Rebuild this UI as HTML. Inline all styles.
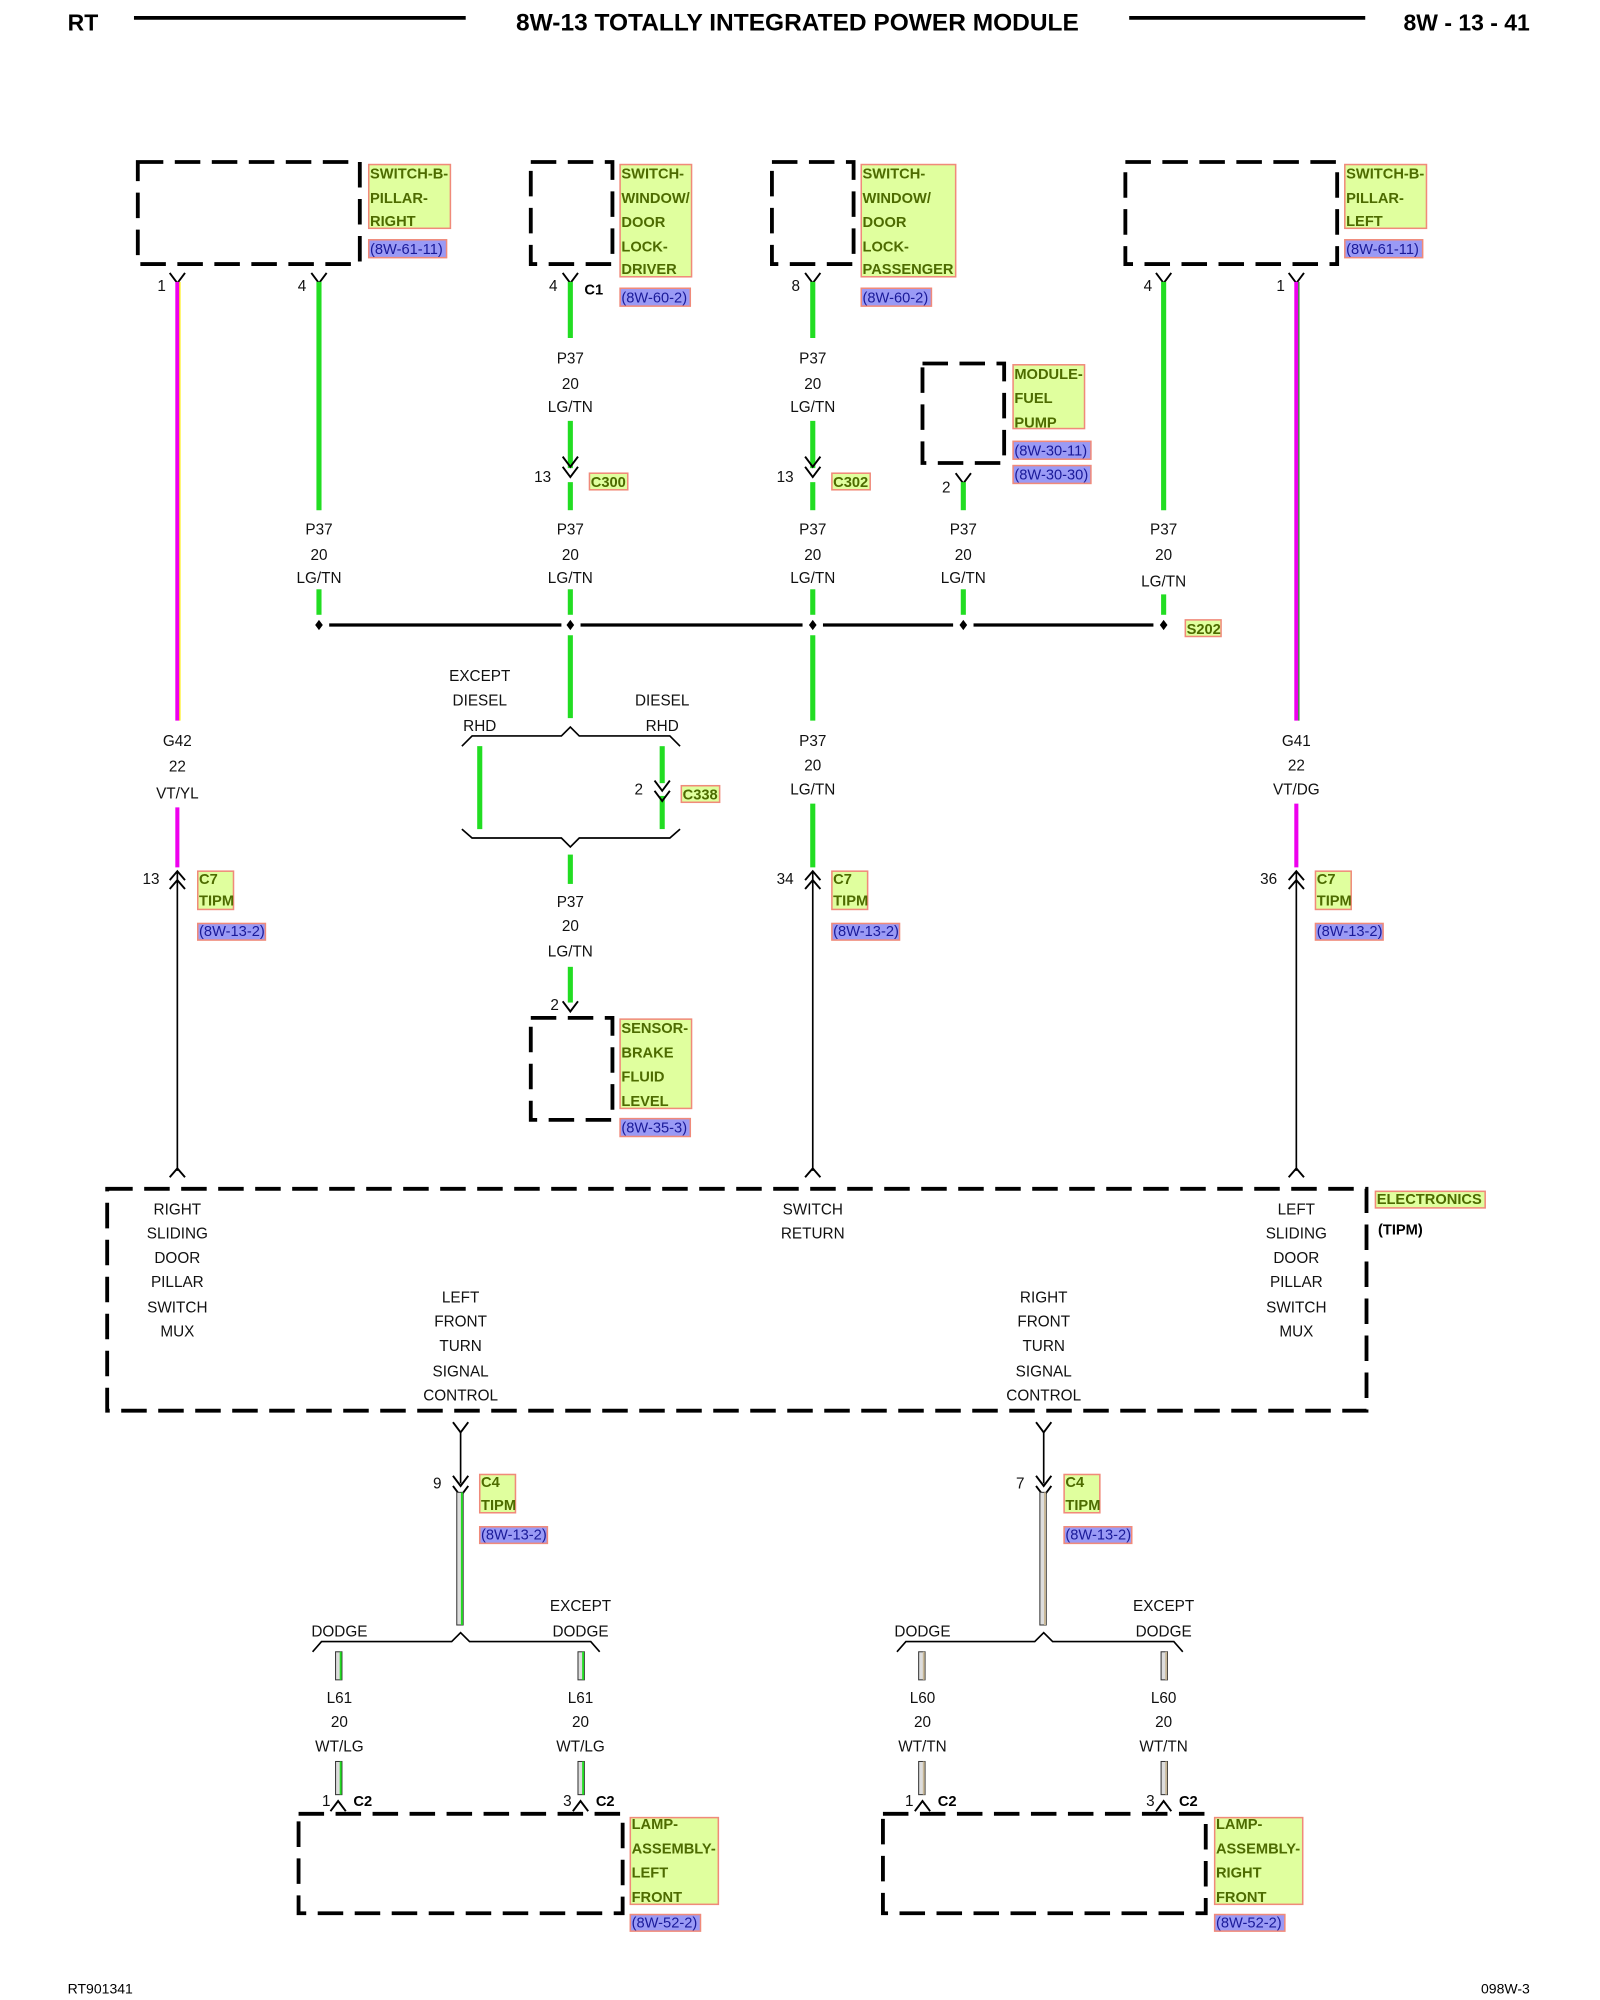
<!DOCTYPE html>
<html><head><meta charset="utf-8"><style>
html,body{margin:0;padding:0;background:#fff;}
svg{display:block;}
text{font-family:"Liberation Sans",sans-serif;}
.t{font-size:12px;fill:#111;text-anchor:middle;}
.n{font-size:12px;fill:#111;text-anchor:end;}
.lb{font-size:11.5px;font-weight:bold;fill:#4d6b00;}
.rf{font-size:11.5px;fill:#1a1a99;}
.bx{fill:none;stroke:#000;stroke-width:3;stroke-dasharray:20 9;}
.lf{fill:#e0ff9e;stroke:#f08a7a;stroke-width:1.2;}
.rb{fill:#9a9af5;stroke:#f08a7a;stroke-width:1.2;}
.g{stroke:#22dd22;stroke-width:4;}
.m{stroke:#ee00ee;stroke-width:3.2;}
.k{stroke:#000;stroke-width:1.3;fill:none;}
.kb{stroke:#000;stroke-width:2.5;}
.ch{stroke:#000;stroke-width:1.5;fill:none;}
</style></head><body>
<svg width="1600" height="2000" viewBox="0 0 1254 1568" preserveAspectRatio="none" xmlns="http://www.w3.org/2000/svg">
<text x="53" y="24" style="font-size:18px;font-weight:bold">RT</text>
<line x1="105" y1="14" x2="365" y2="14" stroke="#000" stroke-width="3"/>
<text x="625" y="24" style="font-size:19.2px;font-weight:bold;text-anchor:middle">8W-13 TOTALLY INTEGRATED POWER MODULE</text>
<line x1="885" y1="14" x2="1070" y2="14" stroke="#000" stroke-width="3"/>
<text x="1199" y="24" style="font-size:18px;font-weight:bold;text-anchor:end">8W - 13 - 41</text>

<rect class="bx" x="108" y="127" width="174" height="80"/>
<rect class="lf" x="289" y="129" width="64" height="50"/>
<text class="lb" x="290" y="140">SWITCH-B-</text><text class="lb" x="290" y="159">PILLAR-</text><text class="lb" x="290" y="177">RIGHT</text>
<rect class="rb" x="289" y="188" width="61" height="14"/><text class="rf" x="290" y="199">(8W-61-11)</text>

<rect class="bx" x="416" y="127" width="64" height="80"/>
<rect class="lf" x="486" y="129" width="56" height="88"/>
<text class="lb" x="487" y="140">SWITCH-</text><text class="lb" x="487" y="159">WINDOW/</text><text class="lb" x="487" y="178">DOOR</text><text class="lb" x="487" y="197">LOCK-</text><text class="lb" x="487" y="215">DRIVER</text>
<rect class="rb" x="486" y="226" width="55" height="14"/><text class="rf" x="487" y="237">(8W-60-2)</text>

<rect class="bx" x="605" y="127" width="64" height="80"/>
<rect class="lf" x="675" y="129" width="74" height="88"/>
<text class="lb" x="676" y="140">SWITCH-</text><text class="lb" x="676" y="159">WINDOW/</text><text class="lb" x="676" y="178">DOOR</text><text class="lb" x="676" y="197">LOCK-</text><text class="lb" x="676" y="215">PASSENGER</text>
<rect class="rb" x="675" y="226" width="55" height="14"/><text class="rf" x="676" y="237">(8W-60-2)</text>

<rect class="bx" x="882" y="127" width="166" height="80"/>
<rect class="lf" x="1054" y="129" width="64" height="50"/>
<text class="lb" x="1055" y="140">SWITCH-B-</text><text class="lb" x="1055" y="159">PILLAR-</text><text class="lb" x="1055" y="177">LEFT</text>
<rect class="rb" x="1054" y="188" width="61" height="14"/><text class="rf" x="1055" y="199">(8W-61-11)</text>

<rect class="bx" x="723" y="285" width="64" height="78"/>
<rect class="lf" x="794" y="286" width="56" height="50"/>
<text class="lb" x="795" y="297">MODULE-</text><text class="lb" x="795" y="316">FUEL</text><text class="lb" x="795" y="335">PUMP</text>
<rect class="rb" x="794" y="346" width="61" height="14"/><text class="rf" x="795" y="357">(8W-30-11)</text>
<rect class="rb" x="794" y="365" width="61" height="14"/><text class="rf" x="795" y="376">(8W-30-30)</text>

<g class="ch">
<path d="M133 214 L139 222 L145 214"/><path d="M244 214 L250 222 L256 214"/>
<path d="M441 214 L447 222 L453 214"/><path d="M631 214 L637 222 L643 214"/>
<path d="M906 214 L912 222 L918 214"/><path d="M1010 214 L1016 222 L1022 214"/>
<path d="M749 371 L755 379 L761 371"/>
</g>
<text class="n" x="130" y="228">1</text><text class="n" x="240" y="228">4</text><text class="n" x="437" y="228">4</text>
<text x="458" y="231" style="font-size:11.5px;font-weight:bold">C1</text>
<text class="n" x="627" y="228">8</text><text class="n" x="903" y="228">4</text><text class="n" x="1007" y="228">1</text>
<text class="n" x="745" y="386">2</text>

<line class="m" x1="139" y1="221" x2="139" y2="565"/><line class="m" x1="139" y1="633" x2="139" y2="680"/>
<line x1="141" y1="221" x2="141" y2="565" stroke="#ffee00" stroke-width="1"/>
<line class="m" x1="1016" y1="221" x2="1016" y2="565"/><line class="m" x1="1016" y1="630" x2="1016" y2="680"/>
<line x1="1018" y1="221" x2="1018" y2="565" stroke="#229922" stroke-width="1"/>

<line class="g" x1="250" y1="221" x2="250" y2="400"/><line class="g" x1="250" y1="462" x2="250" y2="482"/>
<line class="g" x1="447" y1="221" x2="447" y2="265"/><line class="g" x1="447" y1="330" x2="447" y2="367"/><line class="g" x1="447" y1="378" x2="447" y2="400"/><line class="g" x1="447" y1="462" x2="447" y2="482"/><line class="g" x1="447" y1="498" x2="447" y2="563"/>
<line class="g" x1="637" y1="221" x2="637" y2="265"/><line class="g" x1="637" y1="330" x2="637" y2="367"/><line class="g" x1="637" y1="378" x2="637" y2="400"/><line class="g" x1="637" y1="462" x2="637" y2="482"/><line class="g" x1="637" y1="498" x2="637" y2="565"/><line class="g" x1="637" y1="630" x2="637" y2="680"/>
<line class="g" x1="755" y1="378" x2="755" y2="400"/><line class="g" x1="755" y1="462" x2="755" y2="482"/>
<line class="g" x1="912" y1="221" x2="912" y2="400"/><line class="g" x1="912" y1="466" x2="912" y2="482"/>
<line class="g" x1="376" y1="585" x2="376" y2="650"/>
<line class="g" x1="519" y1="585" x2="519" y2="614"/><line class="g" x1="519" y1="624" x2="519" y2="650"/>
<line class="g" x1="447" y1="670" x2="447" y2="693"/><line class="g" x1="447" y1="758" x2="447" y2="786"/>

<g class="ch">
<path d="M441 358 L447 366 L453 358"/><path d="M441 366 L447 374 L453 366"/>
<path d="M631 358 L637 366 L643 358"/><path d="M631 366 L637 374 L643 366"/>
<path d="M513 612 L519 620 L525 612"/><path d="M513 620 L519 628 L525 620"/>
<path d="M441 785 L447 793 L453 785"/>
</g>
<text class="n" x="432" y="378">13</text><rect class="lf" x="462" y="371" width="30" height="13"/><text class="lb" x="463" y="382">C300</text>
<text class="n" x="622" y="378">13</text><rect class="lf" x="652" y="371" width="30" height="13"/><text class="lb" x="653" y="382">C302</text>
<text class="n" x="504" y="623">2</text><rect class="lf" x="534" y="616" width="30" height="13"/><text class="lb" x="535" y="627">C338</text>
<text class="n" x="438" y="792">2</text>

<g class="t">
<text x="447" y="285">P37</text><text x="447" y="305">20</text><text x="447" y="323">LG/TN</text>
<text x="637" y="285">P37</text><text x="637" y="305">20</text><text x="637" y="323">LG/TN</text>
<text x="250" y="419">P37</text><text x="250" y="439">20</text><text x="250" y="457">LG/TN</text>
<text x="447" y="419">P37</text><text x="447" y="439">20</text><text x="447" y="457">LG/TN</text>
<text x="637" y="419">P37</text><text x="637" y="439">20</text><text x="637" y="457">LG/TN</text>
<text x="755" y="419">P37</text><text x="755" y="439">20</text><text x="755" y="457">LG/TN</text>
<text x="912" y="419">P37</text><text x="912" y="439">20</text><text x="912" y="460">LG/TN</text>
<text x="139" y="585">G42</text><text x="139" y="605">22</text><text x="139" y="626">VT/YL</text>
<text x="637" y="585">P37</text><text x="637" y="604">20</text><text x="637" y="623">LG/TN</text>
<text x="1016" y="585">G41</text><text x="1016" y="604">22</text><text x="1016" y="623">VT/DG</text>
<text x="376" y="534">EXCEPT</text><text x="376" y="553">DIESEL</text><text x="376" y="573">RHD</text>
<text x="519" y="553">DIESEL</text><text x="519" y="573">RHD</text>
<text x="447" y="711">P37</text><text x="447" y="730">20</text><text x="447" y="750">LG/TN</text>
</g>

<line class="kb" x1="258" y1="490" x2="440" y2="490"/><line class="kb" x1="455" y1="490" x2="629" y2="490"/>
<line class="kb" x1="645" y1="490" x2="747" y2="490"/><line class="kb" x1="763" y1="490" x2="904" y2="490"/>
<g fill="#000"><path d="M250 486 L253 490 L250 494 L247 490Z"/><path d="M447 486 L450 490 L447 494 L444 490Z"/><path d="M637 486 L640 490 L637 494 L634 490Z"/><path d="M755 486 L758 490 L755 494 L752 490Z"/><path d="M912 486 L915 490 L912 494 L909 490Z"/></g>
<rect class="lf" x="929" y="486" width="28" height="13"/><text class="lb" x="930" y="497">S202</text>

<path class="k" d="M362 585 L370 577 L440 577 L447 570 L454 577 L525 577 L533 585"/>
<path class="k" d="M362 650 L370 657 L440 657 L447 664 L454 657 L525 657 L533 650"/>

<g class="ch">
<path d="M133 690 L139 683 L145 690"/><path d="M133 697 L139 690 L145 697"/>
<path d="M631 690 L637 683 L643 690"/><path d="M631 697 L637 690 L643 697"/>
<path d="M1010 690 L1016 683 L1022 690"/><path d="M1010 697 L1016 690 L1022 697"/>
<path d="M133 923 L139 916 L145 923"/><path d="M631 923 L637 916 L643 923"/><path d="M1010 923 L1016 916 L1022 923"/>
</g>
<line class="k" x1="139" y1="684" x2="139" y2="918"/><line class="k" x1="637" y1="684" x2="637" y2="918"/><line class="k" x1="1016" y1="684" x2="1016" y2="918"/>
<text class="n" x="125" y="693">13</text><text class="n" x="622" y="693">34</text><text class="n" x="1001" y="693">36</text>
<rect class="lf" x="155" y="683" width="28" height="30"/><text class="lb" x="156" y="693">C7</text><text class="lb" x="156" y="710">TIPM</text>
<rect class="rb" x="155" y="724" width="53" height="13"/><text class="rf" x="156" y="734">(8W-13-2)</text>
<rect class="lf" x="652" y="683" width="28" height="30"/><text class="lb" x="653" y="693">C7</text><text class="lb" x="653" y="710">TIPM</text>
<rect class="rb" x="652" y="724" width="53" height="13"/><text class="rf" x="653" y="734">(8W-13-2)</text>
<rect class="lf" x="1031" y="683" width="28" height="30"/><text class="lb" x="1032" y="693">C7</text><text class="lb" x="1032" y="710">TIPM</text>
<rect class="rb" x="1031" y="724" width="53" height="13"/><text class="rf" x="1032" y="734">(8W-13-2)</text>

<rect class="bx" x="416" y="798" width="64" height="80"/>
<rect class="lf" x="486" y="799" width="56" height="70"/>
<text class="lb" x="487" y="810">SENSOR-</text><text class="lb" x="487" y="829">BRAKE</text><text class="lb" x="487" y="848">FLUID</text><text class="lb" x="487" y="867">LEVEL</text>
<rect class="rb" x="486" y="877" width="55" height="14"/><text class="rf" x="487" y="888">(8W-35-3)</text>

<rect class="bx" x="84" y="932" width="987" height="174"/>
<rect class="lf" x="1078" y="934" width="86" height="13"/><text class="lb" x="1079" y="944">ELECTRONICS</text>
<text x="1080" y="968" style="font-size:11.5px;font-weight:bold">(TIPM)</text>
<g class="t">
<text x="139" y="952">RIGHT</text><text x="139" y="971">SLIDING</text><text x="139" y="990">DOOR</text><text x="139" y="1009">PILLAR</text><text x="139" y="1029">SWITCH</text><text x="139" y="1048">MUX</text>
<text x="637" y="952">SWITCH</text><text x="637" y="971">RETURN</text>
<text x="1016" y="952">LEFT</text><text x="1016" y="971">SLIDING</text><text x="1016" y="990">DOOR</text><text x="1016" y="1009">PILLAR</text><text x="1016" y="1029">SWITCH</text><text x="1016" y="1048">MUX</text>
<text x="361" y="1021">LEFT</text><text x="361" y="1040">FRONT</text><text x="361" y="1059">TURN</text><text x="361" y="1079">SIGNAL</text><text x="361" y="1098">CONTROL</text>
<text x="818" y="1021">RIGHT</text><text x="818" y="1040">FRONT</text><text x="818" y="1059">TURN</text><text x="818" y="1079">SIGNAL</text><text x="818" y="1098">CONTROL</text>
</g>

<g class="ch">
<path d="M355 1115 L361 1123 L367 1115"/><path d="M355 1157 L361 1165 L367 1157"/><path d="M355 1165 L361 1173 L367 1165"/>
<path d="M812 1115 L818 1123 L824 1115"/><path d="M812 1157 L818 1165 L824 1157"/><path d="M812 1165 L818 1173 L824 1165"/>
</g>
<line class="k" x1="361" y1="1122" x2="361" y2="1163"/><line class="k" x1="818" y1="1122" x2="818" y2="1163"/>
<text class="n" x="346" y="1167">9</text><text class="n" x="803" y="1167">7</text>
<rect class="lf" x="376" y="1156" width="28" height="30"/><text class="lb" x="377" y="1166">C4</text><text class="lb" x="377" y="1184">TIPM</text>
<rect class="rb" x="376" y="1197" width="53" height="13"/><text class="rf" x="377" y="1207">(8W-13-2)</text>
<rect class="lf" x="834" y="1156" width="28" height="30"/><text class="lb" x="835" y="1166">C4</text><text class="lb" x="835" y="1184">TIPM</text>
<rect class="rb" x="834" y="1197" width="53" height="13"/><text class="rf" x="835" y="1207">(8W-13-2)</text>

<g>
<rect x="358" y="1170" width="5" height="104" fill="#ddd" stroke="#333" stroke-width="0.8"/><line x1="362" y1="1170" x2="362" y2="1274" stroke="#22dd22" stroke-width="1.5"/>
<rect x="263" y="1295" width="5" height="22" fill="#ddd" stroke="#333" stroke-width="0.8"/><line x1="267" y1="1295" x2="267" y2="1317" stroke="#22dd22" stroke-width="1.5"/>
<rect x="453" y="1295" width="5" height="22" fill="#ddd" stroke="#333" stroke-width="0.8"/><line x1="457" y1="1295" x2="457" y2="1317" stroke="#22dd22" stroke-width="1.5"/>
<rect x="263" y="1381" width="5" height="26" fill="#ddd" stroke="#333" stroke-width="0.8"/><line x1="267" y1="1381" x2="267" y2="1407" stroke="#22dd22" stroke-width="1.5"/>
<rect x="453" y="1381" width="5" height="26" fill="#ddd" stroke="#333" stroke-width="0.8"/><line x1="457" y1="1381" x2="457" y2="1407" stroke="#22dd22" stroke-width="1.5"/>
<rect x="815" y="1170" width="5" height="104" fill="#ddd" stroke="#333" stroke-width="0.8"/><line x1="819" y1="1170" x2="819" y2="1274" stroke="#c8b898" stroke-width="1.5"/>
<rect x="720" y="1295" width="5" height="22" fill="#ddd" stroke="#333" stroke-width="0.8"/><line x1="724" y1="1295" x2="724" y2="1317" stroke="#c8b898" stroke-width="1.5"/>
<rect x="910" y="1295" width="5" height="22" fill="#ddd" stroke="#333" stroke-width="0.8"/><line x1="914" y1="1295" x2="914" y2="1317" stroke="#c8b898" stroke-width="1.5"/>
<rect x="720" y="1381" width="5" height="26" fill="#ddd" stroke="#333" stroke-width="0.8"/><line x1="724" y1="1381" x2="724" y2="1407" stroke="#c8b898" stroke-width="1.5"/>
<rect x="910" y="1381" width="5" height="26" fill="#ddd" stroke="#333" stroke-width="0.8"/><line x1="914" y1="1381" x2="914" y2="1407" stroke="#c8b898" stroke-width="1.5"/>
</g>
<path class="k" d="M245 1295 L252 1287 L354 1287 L361 1280 L368 1287 L463 1287 L470 1295"/>
<path class="k" d="M703 1295 L710 1287 L811 1287 L818 1280 L825 1287 L920 1287 L927 1295"/>
<g class="ch">
<path d="M259 1420 L265 1412 L271 1420"/><path d="M449 1420 L455 1412 L461 1420"/>
<path d="M717 1420 L723 1412 L729 1420"/><path d="M906 1420 L912 1412 L918 1420"/>
</g>
<g class="t">
<text x="266" y="1283">DODGE</text><text x="455" y="1263">EXCEPT</text><text x="455" y="1283">DODGE</text>
<text x="723" y="1283">DODGE</text><text x="912" y="1263">EXCEPT</text><text x="912" y="1283">DODGE</text>
<text x="266" y="1335">L61</text><text x="266" y="1354">20</text><text x="266" y="1373">WT/LG</text>
<text x="455" y="1335">L61</text><text x="455" y="1354">20</text><text x="455" y="1373">WT/LG</text>
<text x="723" y="1335">L60</text><text x="723" y="1354">20</text><text x="723" y="1373">WT/TN</text>
<text x="912" y="1335">L60</text><text x="912" y="1354">20</text><text x="912" y="1373">WT/TN</text>
</g>
<text class="n" x="259" y="1416">1</text><text x="277" y="1416" style="font-size:11.5px;font-weight:bold">C2</text>
<text class="n" x="448" y="1416">3</text><text x="467" y="1416" style="font-size:11.5px;font-weight:bold">C2</text>
<text class="n" x="716" y="1416">1</text><text x="735" y="1416" style="font-size:11.5px;font-weight:bold">C2</text>
<text class="n" x="905" y="1416">3</text><text x="924" y="1416" style="font-size:11.5px;font-weight:bold">C2</text>

<rect class="bx" x="234" y="1422" width="254" height="78"/>
<rect class="lf" x="494" y="1425" width="69" height="68"/>
<text class="lb" x="495" y="1434">LAMP-</text><text class="lb" x="495" y="1453">ASSEMBLY-</text><text class="lb" x="495" y="1472">LEFT</text><text class="lb" x="495" y="1491">FRONT</text>
<rect class="rb" x="494" y="1501" width="55" height="13"/><text class="rf" x="495" y="1511">(8W-52-2)</text>
<rect class="bx" x="692" y="1422" width="253" height="78"/>
<rect class="lf" x="952" y="1425" width="69" height="68"/>
<text class="lb" x="953" y="1434">LAMP-</text><text class="lb" x="953" y="1453">ASSEMBLY-</text><text class="lb" x="953" y="1472">RIGHT</text><text class="lb" x="953" y="1491">FRONT</text>
<rect class="rb" x="952" y="1501" width="55" height="13"/><text class="rf" x="953" y="1511">(8W-52-2)</text>

<text x="53" y="1563" style="font-size:11px">RT901341</text>
<text x="1199" y="1563" style="font-size:11px;text-anchor:end">098W-3</text>
</svg>
</body></html>
